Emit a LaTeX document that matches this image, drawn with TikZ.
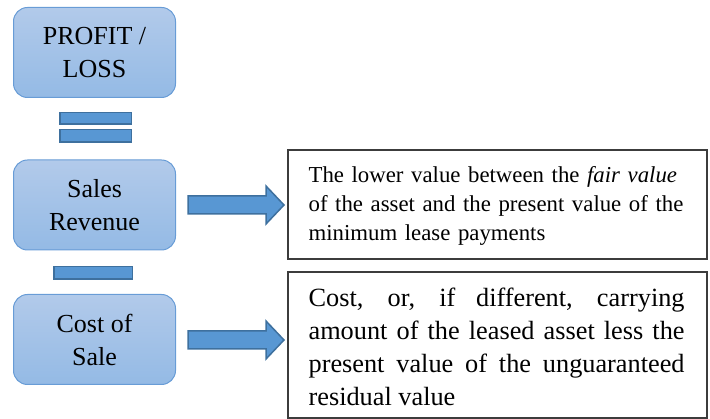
\documentclass[tikz,border=0pt]{standalone}
\usepackage{fontspec}
\setmainfont{Liberation Serif}
\usetikzlibrary{calc}
\definecolor{boxtop}{RGB}{178,202,234}
\definecolor{boxbot}{RGB}{148,186,229}
\definecolor{boxedge}{RGB}{104,156,214}
\definecolor{barfill}{RGB}{88,151,211}
\definecolor{baredge}{RGB}{62,112,158}
\definecolor{tboxedge}{RGB}{60,60,60}
\tikzset{
  roundbox/.style={rounded corners=14pt, draw=boxedge, line width=1pt,
    top color=boxtop, bottom color=boxbot, minimum width=162pt,
    minimum height=90pt, align=center, inner sep=0pt,
    font=\fontsize{26}{33}\selectfont},
  barshape/.style={draw=baredge, fill=barfill, line width=1.5pt},
  barnode/.style={barshape, inner sep=0pt},
  textbox/.style={draw=tboxedge, line width=1.2pt, inner sep=0pt,
    minimum width=419pt}
}
\begin{document}
\begin{tikzpicture}[x=1pt,y=-1pt]
\useasboundingbox (0,0) rectangle (710,419);
% left rounded boxes
\node[roundbox] (pl) at (94.5,52.5) {PROFIT /\\LOSS};
\node[roundbox] (sr) at (94.5,205) {Sales\\Revenue};
\node[roundbox] (cs) at (94.5,339.5) {Cost of\\Sale};
% equals and minus bars
\node[barnode, minimum width=71.5pt, minimum height=11.5pt] (eqa) at (95.5,118.5) {};
\node[barnode, minimum width=71.5pt, minimum height=12.5pt] (eqb) at (95.5,136) {};
\node[barnode, minimum width=78.5pt, minimum height=12.5pt] (minus) at (93,273) {};
% text boxes
\node[textbox, minimum height=109pt] (lv) at (497.5,204.5) {};
\node[anchor=north west, inner sep=0pt, text width=390pt, align=left,
      font=\fontsize{22.8}{29}\selectfont] (lvt) at ($(lv.north west)+(21,17)$)
  {The lower value between the \textit{fair value}\\of the asset and the present value of the\\minimum lease payments};
\node[textbox, minimum height=146pt] (cc) at (497.5,345) {};
\node[anchor=north west, inner sep=0pt, text width=376pt, align=justify,
      font=\fontsize{26.3}{33}\selectfont] (cct) at ($(cc.north west)+(21,16)$)
  {Cost, or, if different, carrying\linebreak amount of the leased asset less the\linebreak present value of the unguaranteed\linebreak residual value};
% block arrows
\draw[barshape] ($(sr.east)+(12,-9)$) -- ++(78,0) -- ++(0,-10) -- ++(18,19)
  -- ++(-18,19) -- ++(0,-10) -- ++(-78,0) -- cycle;
\draw[barshape] ($(cs.east)+(12,-8.5)$) -- ++(78,0) -- ++(0,-10) -- ++(18,19)
  -- ++(-18,19) -- ++(0,-10) -- ++(-78,0) -- cycle;
\end{tikzpicture}
\end{document}
